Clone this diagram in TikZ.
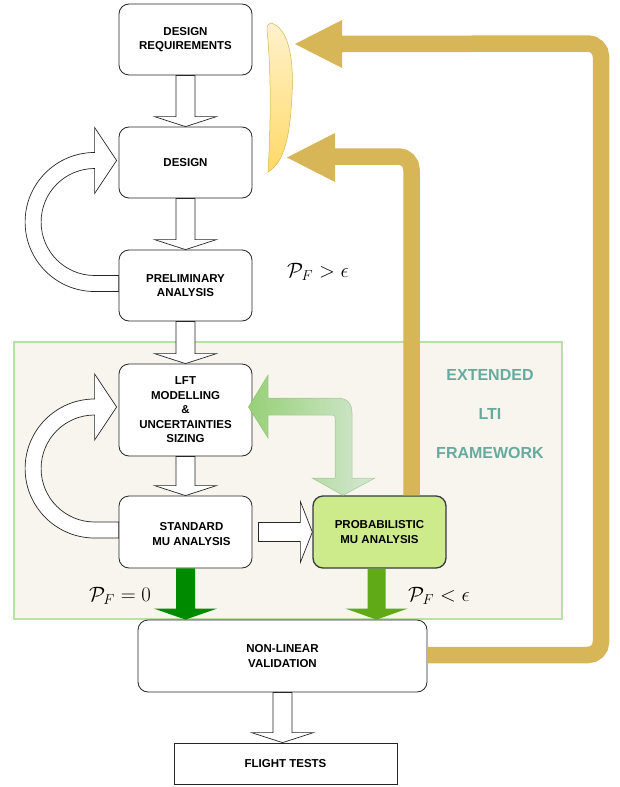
\documentclass[tikz,border=0pt]{standalone}
\usepackage{fontspec}
\setmainfont{Liberation Sans}
\usetikzlibrary{calc}
\definecolor{gold}{HTML}{D6B656}
\definecolor{lensTop}{HTML}{FFF2CC}
\definecolor{lensBot}{HTML}{FFD966}
\definecolor{bgFill}{HTML}{F7F5EE}
\definecolor{bgLine}{HTML}{B9E0A5}
\definecolor{probFill}{HTML}{CDEB8B}
\definecolor{probLine}{HTML}{36393D}
\definecolor{darkGreen}{HTML}{008A00}
\definecolor{midGreen}{HTML}{60A917}
\definecolor{gradA}{HTML}{97D077}
\definecolor{gradB}{HTML}{D5E8D4}
\definecolor{gradLine}{HTML}{82B366}
\definecolor{teal}{HTML}{67AB9F}
\newcommand\boxfont{\fontsize{11.5}{14.5}\selectfont\bfseries}
\newcommand\mathlbl{\fontsize{20}{24}\selectfont}
\newcommand\hdown[2]{%
  \draw[hollow] ($(#1.south)+(-9.5,0)$) -- ($(#1.south |- #2.north)+(-9.5,-10)$)
    -- ($(#1.south |- #2.north)+(-31,-10)$) -- (#1.south |- #2.north)
    -- ($(#1.south |- #2.north)+(31,-10)$) -- ($(#1.south |- #2.north)+(9.5,-10)$)
    -- ($(#1.south)+(9.5,0)$) -- cycle;}
\newcommand\hloop[1]{%
  \draw[hollow] ($(#1.west)+(0,6)$) -- ($(#1.west)+(-24,6)$)
    arc[start angle=90,end angle=270,radius=69.5] -- ++(0,-25)
    -- ($(#1.west)+(-2,-125)$) -- ($(#1.west)+(-24,-92)$) -- ($(#1.west)+(-24,-117)$)
    arc[start angle=270,end angle=90,radius=53.5] -- ($(#1.west)+(0,-10)$) -- cycle;}
\begin{document}
\begin{tikzpicture}[x=1pt,y=-1pt,
  box/.style={draw=black!85, fill=white, rounded corners=10pt, line width=0.8pt,
    align=center, font=\boxfont, inner sep=0pt, minimum width=133pt},
  hollow/.style={draw=black!85, fill=white, line width=0.7pt, line join=miter},
  goldband/.style={draw=gold, line width=16.5pt, rounded corners=13pt}]
\useasboundingbox (0,0) rectangle (619,787);
% background frame
\draw[fill=bgFill, draw=bgLine, line width=1.5pt] (14,342) rectangle (562,619);
\node[font=\fontsize{16}{39}\selectfont\bfseries, text=teal, align=center] (ext) at (490,414) {EXTENDED\\LTI\\FRAMEWORK};
% boxes
\node[box, minimum height=71pt] (dr) at (185.5,39.5) {DESIGN\\REQUIREMENTS};
\node[box, minimum height=71pt] (des) at (185.5,162.5) {DESIGN};
\node[box, minimum height=71pt] (pre) at (185.5,285.5) {PRELIMINARY\\ANALYSIS};
\node[box, minimum height=92pt] (lft) at (185.5,410) {LFT\\MODELLING\\\&\\UNCERTAINTIES\\SIZING};
\node[box, minimum height=72pt] (std) at (185.5,532) {};
\node[font=\boxfont, align=center] (stdtxt) at (191.5,534) {STANDARD\\MU ANALYSIS};
\node[box, minimum height=72pt, fill=probFill, draw=probLine, line width=1.3pt] (prob) at (379.5,532) {PROBABILISTIC\\MU ANALYSIS};
\node[box, minimum width=289pt, minimum height=72pt] (nlv) at (282.5,656) {NON-LINEAR\\VALIDATION};
\node[box, rounded corners=0pt, minimum width=223pt, minimum height=41pt] (flt) at (285.5,763.5) {FLIGHT TESTS};
% gold feedback arrows
\coordinate (tipA) at (295,44);
\coordinate (tipB) at (287,157.5);
\draw[goldband] ($(nlv.east)+(0,-1)$) -- (601,655) -- (601,43.5) -- ($(tipA)+(47,0)$);
\fill[gold] ($(tipA)+(47,-24)$) -- (tipA) -- ($(tipA)+(47,24)$) -- cycle;
\draw[goldband] ($(prob.north)+(32,0)$) |- ($(tipB)+(48,-1)$);
\fill[gold] ($(tipB)+(48,-24.5)$) -- (tipB) -- ($(tipB)+(48,24.5)$) -- cycle;
% lens
\draw[draw=gold, line width=0.5pt, top color=lensTop, bottom color=lensBot]
  (271,23) .. controls (289,28) and (294,60) .. (292,95)
  .. controls (290,135) and (285,162) .. (268,172)
  .. controls (271,120) and (271,70) .. (267,30)
  .. controls (267,25) .. (271,23) -- cycle;
% hollow arrows
\hdown{dr}{des}
\hdown{des}{pre}
\hdown{pre}{lft}
\hdown{lft}{std}
\hdown{nlv}{flt}
\draw[hollow] ($(std.east)+(6,-9.5)$) -- ($(prob.west)+(-12,-9.5)$) -- ($(prob.west)+(-12,-30.5)$)
  -- (prob.west) -- ($(prob.west)+(-12,30.5)$) -- ($(prob.west)+(-12,9.5)$) -- ($(std.east)+(6,9.5)$) -- cycle;
\hloop{pre}
\hloop{std}
% green double arrow
\draw[draw=gradLine, draw opacity=0.6, line width=0.5pt, left color=gradA, right color=gradB]
  ($(lft.east)+(-4,-3)$) -- (268,375) -- (268,398) -- (337,398)
  .. controls (347,398) and (352,403) .. (352,413) -- (352,478) -- (375,478)
  -- ($(prob.north)+(-36.5,0)$) -- (312,478) -- (335,478) -- (335,418)
  .. controls (335,416) .. (333,415) -- (268,415) -- (268,438) -- cycle;
% solid green arrows
\fill[darkGreen] ($(std.south)+(-9.5,0)$) -- ($(std.south |- nlv.north)+(-9.5,-11)$)
  -- ($(std.south |- nlv.north)+(-31.5,-11)$) -- (std.south |- nlv.north)
  -- ($(std.south |- nlv.north)+(31.5,-11)$) -- ($(std.south |- nlv.north)+(9.5,-11)$)
  -- ($(std.south)+(9.5,0)$) -- cycle;
\fill[midGreen] ($(prob.south)+(-12,0)$) -- ($(prob.south |- nlv.north)+(-12,-11)$)
  -- ($(prob.south |- nlv.north)+(-34,-11)$) -- ($(prob.south |- nlv.north)+(-3,0)$)
  -- ($(prob.south |- nlv.north)+(28,-11)$) -- ($(prob.south |- nlv.north)+(6,-11)$)
  -- ($(prob.south)+(6,0)$) -- cycle;
% labels
\node[font=\mathlbl] (l1) at (318,272) {$\mathcal{P}_F > \epsilon$};
\node[font=\mathlbl] (l2) at (120,596) {$\mathcal{P}_F = 0$};
\node[font=\mathlbl] (l3) at (439,596) {$\mathcal{P}_F < \epsilon$};
\end{tikzpicture}
\end{document}
